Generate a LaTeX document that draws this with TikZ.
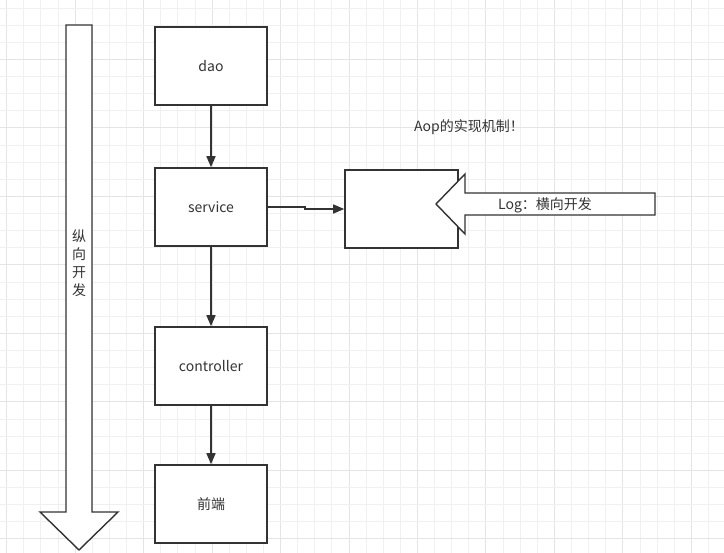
\documentclass[tikz,border=0pt]{standalone}
\usepackage{fontspec}
\setmainfont{Noto Sans CJK SC}
\usetikzlibrary{arrows.meta}
\definecolor{ink}{HTML}{333333}
\definecolor{gridminor}{HTML}{F0F0F0}
\definecolor{gridmajor}{HTML}{E4E4E4}
\tikzset{
  box/.style={draw=ink, line width=1.6pt, fill=white, minimum width=112pt, minimum height=78pt, inner sep=0pt, font=\fontsize{14}{16}\selectfont, text=ink},
  flow/.style={draw=ink, line width=1.6pt, -{Triangle[length=11pt,width=9pt]}},
  bigarrow/.style={draw=ink, line width=1.4pt, fill=white, line join=miter},
  lbl/.style={font=\fontsize{14}{16}\selectfont, text=ink, inner sep=0pt}
}
\begin{document}
\begin{tikzpicture}[x=1pt,y=-1pt]
\useasboundingbox (0,0) rectangle (724,553);
\fill[white] (0,0) rectangle (724,553);
% grid
\foreach \k in {0,...,42}{
  \pgfmathsetmacro\xx{6.5+17.12*\k}
  \pgfmathtruncatemacro\m{mod(\k,4)}
  \ifnum\m=0 \draw[gridmajor,line width=0.8pt] (\xx,0) -- (\xx,553);
  \else \draw[gridminor,line width=0.6pt] (\xx,0) -- (\xx,553); \fi
}
\foreach \k in {1,...,33}{
  \pgfmathsetmacro\yy{-9.18+17.12*\k}
  \pgfmathtruncatemacro\m{mod(\k,4)}
  \ifnum\m=0 \draw[gridmajor,line width=0.8pt] (0,\yy) -- (724,\yy);
  \else \draw[gridminor,line width=0.6pt] (0,\yy) -- (724,\yy); \fi
}
% vertical big arrow
\draw[bigarrow] (66,25) -- (92,25) -- (92,512) -- (118,512) -- (79,550) -- (40,512) -- (66,512) -- cycle;
\node[lbl, align=center, font=\fontsize{14}{18}\selectfont] (vdev) at (79,263) {纵\\向\\开\\发};
% boxes
\node[box] (dao) at (211,66) {dao};
\node[box] (service) at (211,207) {service};
\node[box] (controller) at (211,366) {controller};
\node[box] (front) at (211,504) {前端};
\node[box, minimum width=113pt, minimum height=78pt] (aop) at (401.5,209) {};
% horizontal big arrow
\draw[bigarrow] (655,193) -- (655,215) -- (465,215) -- (465,234) -- (436,204) -- (465,174) -- (465,193) -- cycle;
\node[lbl] (log) at (545,205) {Log：横向开发};
\node[lbl] (title) at (469,127) {Aop的实现机制！};
% connectors
\draw[flow] (dao) -- (service);
\draw[flow] (service) -- (controller);
\draw[flow] (controller) -- (front);
\coordinate (bend) at (305,207);
\draw[flow] (service.east) -- (bend) |- (aop.west);
\end{tikzpicture}
\end{document}
